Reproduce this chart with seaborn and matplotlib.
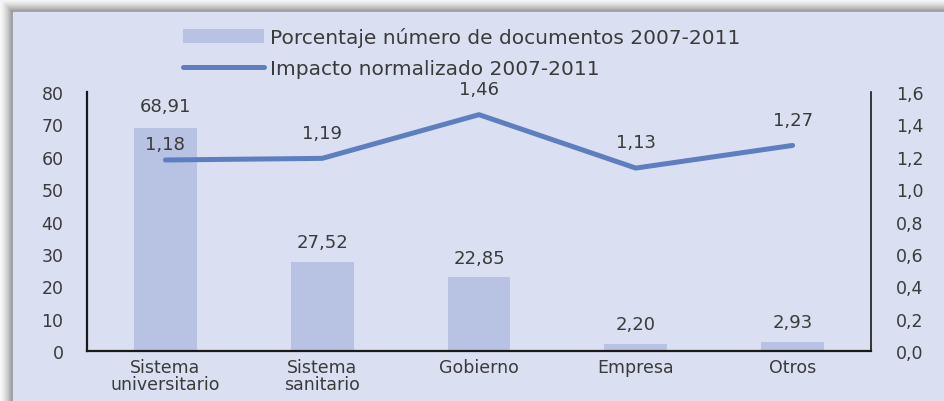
import matplotlib
matplotlib.use("Agg")
import matplotlib.pyplot as plt
import matplotlib.patches as mpatches
from matplotlib.ticker import FuncFormatter
import numpy as np
import pandas as pd
import seaborn as sns

categories = ["Sistema\nuniversitario", "Sistema\nsanitario", "Gobierno", "Empresa", "Otros"]
doc_share = [68.91, 27.52, 22.85, 2.20, 2.93]
impact = [1.18, 1.19, 1.46, 1.13, 1.27]
bar_label = "Porcentaje número de documentos 2007-2011"
line_label = "Impacto normalizado 2007-2011"

BG = "#dadff1"
BAR = "#b8c3e3"
LINE = "#5e7ec0"
TEXT = "#3b3b3b"

W, H = 945, 402

sns.set_theme(style="white")
plt.rcParams["font.family"] = ["DejaVu Sans"]


def comma(v, digits):
    return f"{v:.{digits}f}".replace(".", ",")


df = pd.DataFrame({"cat": categories, "docs": doc_share, "impact": impact})
df["pos"] = np.arange(len(df))

fig = plt.figure(figsize=(W / 100, H / 100), dpi=100, facecolor="white")

# shadow frame on left and top
for i in range(13):
    g = 0.97 - 0.38 * (i / 12) ** 1.5
    fig.patches.append(mpatches.Rectangle((i / W, 0), 1 / W, 1 - i / H,
                                          transform=fig.transFigure, color=(g, g, g), zorder=-3))
    fig.patches.append(mpatches.Rectangle((i / W, 1 - (i + 1) / H), 1 - i / W, 1 / H,
                                          transform=fig.transFigure, color=(g, g, g), zorder=-3))
fig.patches.append(mpatches.Rectangle((13 / W, 0), 1, 1 - 13 / H,
                                      transform=fig.transFigure, color=BG, zorder=-2))

ax = fig.add_axes([87 / W, 1 - 352 / H, (871 - 87) / W, (352 - 93) / H])
ax.set_facecolor("none")
sns.barplot(data=df, x="pos", y="docs", color=BAR, width=0.4, saturation=1,
            native_scale=True, label=bar_label, linewidth=0, ax=ax)
ax.set_xlim(-0.5, len(df) - 0.5)
ax.set_ylim(0, 80)
ax.set_yticks(np.arange(0, 81, 10))
ax.set_xticks(df["pos"])
ax.set_xticklabels(df["cat"])
ax.set_xlabel("")
ax.set_ylabel("")

ax2 = ax.twinx()
sns.lineplot(data=df, x="pos", y="impact", color=LINE, linewidth=3.6,
             solid_capstyle="round", label=line_label, ax=ax2)
ax2.set_ylim(0, 1.6)
ax2.set_yticks(np.arange(0, 1.61, 0.2))
ax2.yaxis.set_major_formatter(FuncFormatter(lambda v, p: comma(v, 1)))
ax2.set_ylabel("")
ax2.get_legend().remove()

for a in (ax, ax2):
    a.tick_params(length=0, labelsize=12.5, labelcolor=TEXT)
    a.spines["top"].set_visible(False)
ax.tick_params(axis="y", pad=17)
ax.tick_params(axis="x", pad=5)
ax2.tick_params(axis="y", pad=18)
for lbl in ax.get_xticklabels():
    lbl.set_linespacing(0.9)
ax.spines["left"].set_linewidth(1.6)
ax.spines["left"].set_color("#1a1a1a")
ax.spines["bottom"].set_linewidth(1.6)
ax.spines["bottom"].set_color("#1a1a1a")
ax2.spines["right"].set_linewidth(1.2)
ax2.spines["right"].set_color("#1a1a1a")
for s in ("left", "bottom"):
    ax2.spines[s].set_visible(False)
ax.spines["right"].set_visible(False)

for x, v in zip(df["pos"], df["docs"]):
    off = 16 if v > 50 else 14
    ax.annotate(comma(v, 2), (x, v), xytext=(0, off), textcoords="offset points",
                ha="center", va="center", fontsize=13, color=TEXT)
for x, v in zip(df["pos"], df["impact"]):
    off = 11.5 if x == 0 else 18.5
    ax2.annotate(comma(v, 2), (x, v), xytext=(0, off), textcoords="offset points",
                 ha="center", va="center", fontsize=13, color=TEXT)

h1, l1 = ax.get_legend_handles_labels()
h2, l2 = ax2.get_legend_handles_labels()
if ax.get_legend():
    ax.get_legend().remove()
fig.legend(h1 + h2, l1 + l2, loc="upper left", bbox_to_anchor=(183 / W, 1 - 28 / H),
           frameon=False, fontsize=14.5, borderpad=0, borderaxespad=0, handlelength=4.0,
           handletextpad=0.3, labelspacing=0.6, labelcolor=TEXT)

fig.savefig("out.png", dpi=100, facecolor=fig.get_facecolor())
